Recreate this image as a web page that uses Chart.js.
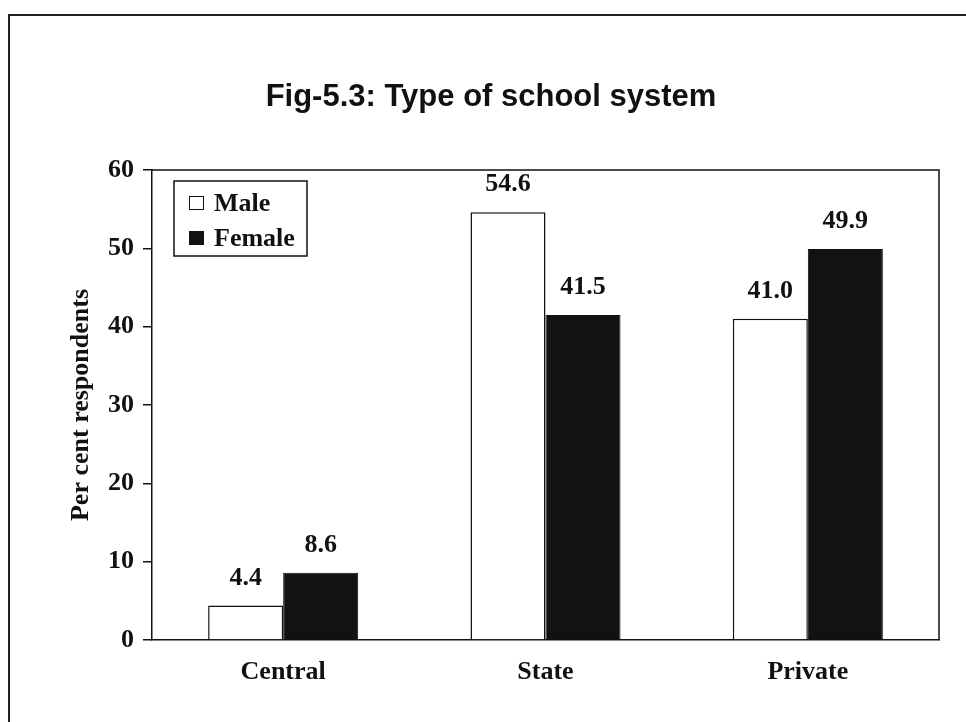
<!DOCTYPE html>
<html>
<head>
<meta charset="utf-8">
<script src="https://cdn.jsdelivr.net/npm/chart.js@4.4.1/dist/chart.umd.min.js"></script>
<style>
  html, body { margin: 0; padding: 0; background: #fff; }
  canvas { display: block; }
</style>
</head>
<body>
<canvas id="chart" width="966" height="722"></canvas>
<script>
// Share of respondents by type of school system, by sex
const categories = ['Central', 'State', 'Private'];
const maleValues = [4.4, 54.6, 41.0];
const femaleValues = [8.6, 41.5, 49.9];
const seriesNames = ['Male', 'Female'];
const yTicks = [0, 10, 20, 30, 40, 50, 60];
const chartTitle = 'Fig-5.3: Type of school system';
const yAxisTitle = 'Per cent respondents';

const SERIF = '"Liberation Serif", "Times New Roman", serif';
const SANS = '"Liberation Sans", Arial, sans-serif';
const INK = '#111';
const FEMALE_FILL = '#121212';

// Outer page frame and white background
const pageFrame = {
  id: 'pageFrame',
  beforeDraw(chart) {
    const ctx = chart.ctx;
    ctx.save();
    ctx.fillStyle = '#fff';
    ctx.fillRect(0, 0, chart.width, chart.height);
    ctx.strokeStyle = '#222';
    ctx.lineWidth = 2;
    ctx.beginPath();
    ctx.moveTo(9, chart.height);
    ctx.lineTo(9, 15);
    ctx.lineTo(chart.width, 15);
    ctx.stroke();
    ctx.restore();
  }
};

// Heading above the plot
const heading = {
  id: 'heading',
  afterDraw(chart) {
    const ctx = chart.ctx;
    ctx.save();
    ctx.fillStyle = INK;
    ctx.font = 'bold 31px ' + SANS;
    ctx.textAlign = 'center';
    ctx.textBaseline = 'alphabetic';
    ctx.fillText(chartTitle, 491, 106);
    ctx.restore();
  }
};

// Top and right edges of the plot area
const plotFrame = {
  id: 'plotFrame',
  afterDatasetsDraw(chart) {
    const a = chart.chartArea;
    const ctx = chart.ctx;
    ctx.save();
    ctx.strokeStyle = INK;
    ctx.lineWidth = 1.5;
    ctx.beginPath();
    ctx.moveTo(a.left, a.top);
    ctx.lineTo(a.right, a.top);
    ctx.lineTo(a.right, a.bottom);
    ctx.stroke();
    ctx.restore();
  }
};

// Value printed above every bar
const valueLabels = {
  id: 'valueLabels',
  afterDatasetsDraw(chart) {
    const ctx = chart.ctx;
    ctx.save();
    ctx.fillStyle = INK;
    ctx.font = 'bold 26px ' + SERIF;
    ctx.textAlign = 'center';
    ctx.textBaseline = 'alphabetic';
    chart.data.datasets.forEach((ds, di) => {
      chart.getDatasetMeta(di).data.forEach((bar, i) => {
        ctx.fillText(Number(ds.data[i]).toFixed(1), bar.x, bar.y - 21);
      });
    });
    ctx.restore();
  }
};

// Boxed legend in the upper-left corner of the plot
const legendBox = {
  id: 'legendBox',
  afterDraw(chart) {
    const a = chart.chartArea;
    const ctx = chart.ctx;
    const x = a.left + 22, y = a.top + 11, w = 133, h = 75;
    ctx.save();
    ctx.fillStyle = '#fff';
    ctx.fillRect(x, y, w, h);
    ctx.strokeStyle = INK;
    ctx.lineWidth = 1.5;
    ctx.strokeRect(x, y, w, h);
    ctx.font = 'bold 26px ' + SERIF;
    ctx.textBaseline = 'middle';
    ctx.textAlign = 'left';
    chart.data.datasets.forEach((ds, i) => {
      const cy = y + 22 + i * 35;
      ctx.fillStyle = ds.backgroundColor;
      ctx.fillRect(x + 15, cy - 7, 15, 14);
      ctx.lineWidth = 1;
      ctx.strokeStyle = INK;
      ctx.strokeRect(x + 15.5, cy - 6.5, 14, 13);
      ctx.fillStyle = INK;
      ctx.fillText(ds.label, x + 40, cy + 1);
    });
    ctx.restore();
  }
};

new Chart(document.getElementById('chart'), {
  type: 'bar',
  data: {
    labels: categories,
    datasets: [
      {
        label: seriesNames[0],
        data: maleValues,
        backgroundColor: '#ffffff',
        borderColor: INK,
        borderWidth: 1.5,
        borderSkipped: 'bottom'
      },
      {
        label: seriesNames[1],
        data: femaleValues,
        backgroundColor: FEMALE_FILL,
        borderColor: INK,
        borderWidth: 1,
        borderSkipped: 'bottom'
      }
    ]
  },
  options: {
    responsive: false,
    animation: false,
    events: [],
    layout: { padding: { top: 170, right: 27, left: 0, bottom: 0 } },
    datasets: {
      bar: { categoryPercentage: 0.572, barPercentage: 1.0 }
    },
    plugins: {
      legend: { display: false },
      title: { display: false },
      tooltip: { enabled: false }
    },
    scales: {
      x: {
        afterFit(scale) { scale.height = 82; },
        grid: { display: true, drawOnChartArea: false, drawTicks: false, color: INK },
        border: { display: true, color: INK, width: 1.5 },
        ticks: {
          color: INK,
          padding: 17,
          font: { family: SERIF, size: 26, weight: 'bold' }
        }
      },
      y: {
        min: 0,
        max: 60,
        afterFit(scale) { scale.width = 152; },
        afterBuildTicks(scale) { scale.ticks = yTicks.map(v => ({ value: v })); },
        grid: { display: true, drawOnChartArea: false, drawTicks: true, tickLength: 9, color: INK, lineWidth: 1.5 },
        border: { display: true, color: INK, width: 1.5 },
        ticks: {
          color: INK,
          padding: 9,
          font: { family: SERIF, size: 26, weight: 'bold' }
        },
        title: {
          display: true,
          text: yAxisTitle,
          color: INK,
          padding: { top: 66, bottom: 0 },
          font: { family: SERIF, size: 26, weight: 'bold' }
        }
      }
    }
  },
  plugins: [pageFrame, plotFrame, valueLabels, legendBox, heading]
});
</script>
</body>
</html>
